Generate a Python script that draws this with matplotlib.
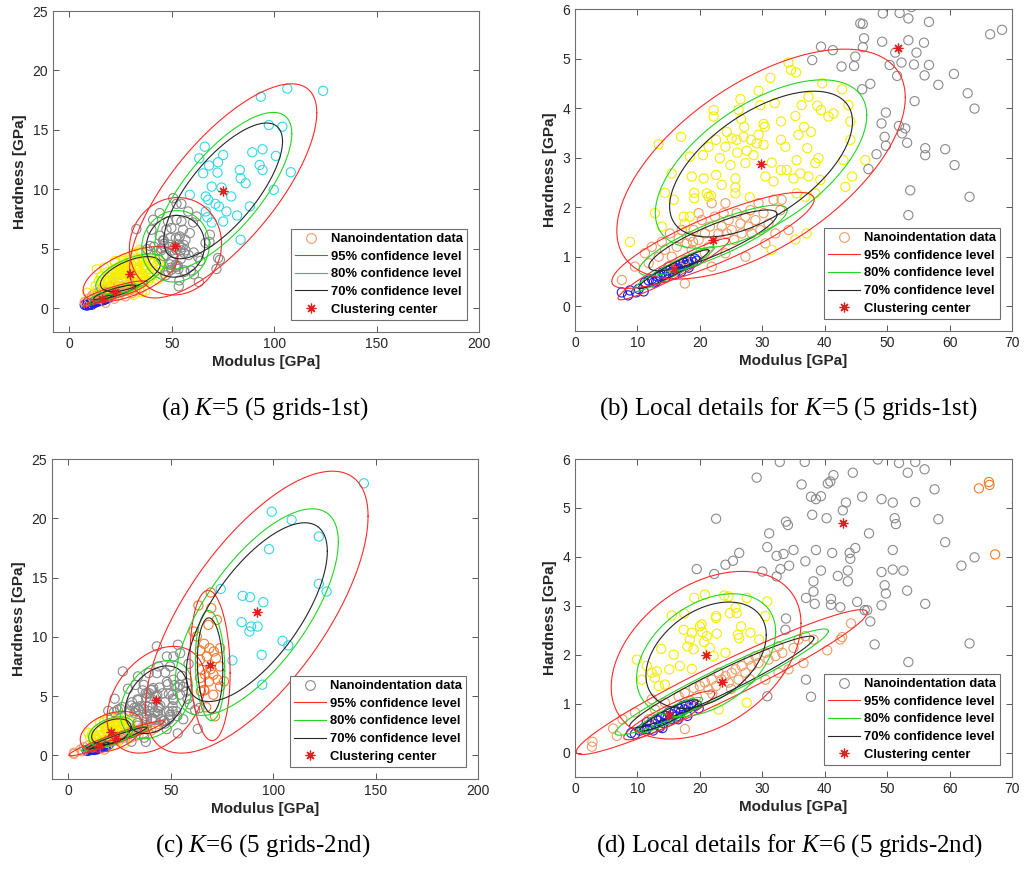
import numpy as np
import matplotlib
matplotlib.use("Agg")
import matplotlib.pyplot as plt
from matplotlib.lines import Line2D

plt.rcParams['font.family'] = ['Liberation Sans', 'DejaVu Sans']
plt.rcParams['mathtext.fontset'] = 'custom'
plt.rcParams['mathtext.rm'] = 'Liberation Serif'
plt.rcParams['mathtext.it'] = 'Liberation Serif:italic'

# ---------------- K=5 (5 grids-1st): modulus [GPa], hardness [GPa] ----------------
k5_blue = [(7.5, 0.28), (8.5, 0.22), (8.8, 0.32), (9.8, 0.28), (10.2, 0.35), (11.0, 0.30),
           (11.2, 0.48), (11.8, 0.52), (12.3, 0.55), (12.6, 0.48), (13.2, 0.60), (13.6, 0.62),
           (14.0, 0.68), (14.3, 0.64), (14.7, 0.72), (15.0, 0.66), (15.3, 0.74), (15.6, 0.70),
           (15.9, 0.78), (16.2, 0.73), (16.4, 0.82), (16.6, 0.76), (16.9, 0.85), (17.1, 0.80),
           (17.4, 0.88), (17.7, 0.83), (18.0, 0.90), (18.3, 0.86), (18.6, 0.94), (18.9, 0.89),
           (19.2, 0.96), (19.5, 0.92), (17.0, 0.70), (15.0, 0.80), (13.0, 0.50), (16.0, 0.64),
           (18.2, 0.78), (14.5, 0.58)]
k5_orange = [(7.5, 0.53), (9.6, 0.80), (11.2, 1.07), (11.8, 0.87), (12.3, 1.20), (13.4, 1.00),
             (13.9, 1.30), (14.4, 1.14), (15.2, 1.47), (15.5, 1.00), (16.3, 1.20), (16.6, 1.37),
             (17.1, 1.54), (17.6, 0.46), (17.9, 1.27), (18.4, 1.41), (18.7, 1.14), (19.0, 1.54),
             (19.8, 1.34), (20.3, 1.74), (20.8, 1.47), (21.4, 1.20), (21.6, 1.61), (21.9, 0.80),
             (22.4, 1.81), (23.0, 1.47), (23.5, 1.61), (23.8, 1.88), (24.3, 1.47), (24.6, 1.74),
             (25.1, 1.54), (25.5, 1.34), (25.9, 1.88), (26.5, 1.67), (26.7, 1.47), (27.3, 1.81),
             (27.8, 1.61), (28.1, 1.94), (28.3, 1.47), (28.9, 1.74), (29.4, 2.08), (29.7, 1.54),
             (30.2, 1.88), (31.0, 1.67), (31.8, 2.15), (32.1, 1.47), (32.9, 1.94), (33.1, 2.15),
             (34.2, 1.54), (27.3, 1.00), (24.1, 1.07), (20.8, 1.07), (17.6, 0.93), (15.0, 0.80),
             (30.5, 1.27), (21.9, 2.08), (19.8, 1.88), (24.1, 2.08), (18.9, 1.30)]
k5_yellow = [(13.4, 3.27), (17.0, 3.42), (8.8, 1.30), (14.4, 2.29), (15.8, 2.15), (19.1, 2.29),
             (19.1, 2.18), (18.4, 3.02), (18.7, 2.62), (20.6, 2.58), (21.1, 2.28), (21.4, 2.21),
             (21.8, 2.23), (21.4, 3.22), (22.6, 3.36), (22.2, 3.96), (22.2, 3.83), (24.1, 3.22),
             (23.2, 2.99), (22.6, 2.65), (24.3, 3.52), (25.1, 3.39), (24.9, 2.85), (25.7, 2.58),
             (25.7, 2.40), (25.7, 2.28), (25.9, 3.36), (26.2, 3.97), (26.5, 4.18), (26.6, 3.78),
             (27.1, 3.62), (27.0, 3.42), (27.3, 2.89), (27.5, 3.14), (28.2, 3.36), (28.6, 3.05),
             (29.1, 3.29), (29.4, 3.46), (30.2, 3.26), (30.2, 3.68), (30.4, 3.62), (29.7, 4.06),
             (29.4, 4.35), (30.5, 2.62), (31.8, 2.52), (31.3, 4.61), (33.0, 2.75), (33.0, 3.73),
             (33.0, 3.36), (33.7, 3.22), (33.9, 2.75), (35.0, 2.58), (35.3, 3.84), (35.8, 3.46),
             (36.1, 2.68), (35.5, 2.95), (36.3, 4.06), (36.7, 3.62), (37.2, 3.19), (37.4, 2.62),
             (37.4, 4.23), (37.8, 3.52), (38.5, 2.89), (38.8, 4.05), (39.0, 2.99), (39.4, 3.96),
             (39.3, 2.55), (40.6, 3.83), (41.4, 3.89), (42.8, 4.38), (43.8, 4.06), (44.1, 3.73),
             (44.1, 3.36), (44.4, 2.62), (43.3, 2.41), (43.0, 2.95), (46.5, 2.95), (38.5, 2.28),
             (36.9, 2.21), (35.5, 2.28), (37.1, 1.47), (35.3, 1.35), (31.5, 1.14), (39.6, 4.50),
             (34.2, 4.92), (34.6, 4.77), (35.4, 4.72), (12.8, 1.88), (13.9, 1.61), (17.4, 1.81),
             (18.4, 1.81), (17.6, 1.67), (15.5, 2.68), (20.5, 3.05), (23.5, 2.45), (28.0, 2.20),
             (31.5, 2.90), (26.0, 3.10), (32.0, 4.10)]
k5_gray = [(49.3, 5.91), (52.0, 5.92), (53.4, 5.81), (45.7, 5.71), (46.1, 5.70), (56.7, 5.74),
           (46.3, 5.41), (53.4, 5.37), (49.2, 5.34), (55.9, 5.32), (39.4, 5.24), (46.1, 5.23),
           (41.3, 5.17), (54.7, 5.12), (51.3, 5.12), (44.9, 5.04), (52.3, 4.92), (54.3, 4.88),
           (38.0, 4.97), (50.4, 4.87), (56.7, 4.87), (42.7, 4.84), (44.7, 4.85), (51.6, 4.65),
           (56.0, 4.66), (60.7, 4.69), (46.0, 4.38), (47.3, 4.49), (58.2, 4.47), (54.4, 4.14),
           (62.9, 4.30), (64.0, 3.99), (66.5, 5.49), (68.4, 5.58), (49.8, 3.91), (49.1, 3.69),
           (51.9, 3.64), (52.9, 3.59), (52.4, 3.49), (49.6, 3.42), (49.8, 3.24), (53.2, 3.30),
           (56.1, 3.19), (56.1, 3.05), (59.3, 3.17), (48.3, 3.07), (47.0, 2.77), (60.8, 2.85),
           (53.7, 2.34), (63.2, 2.21), (53.4, 1.84),
           (50.7, 9.26), (54.7, 8.78), (52.3, 8.78), (58.0, 8.14), (44.1, 8.00), (62.1, 7.72),
           (40.9, 7.44), (48.2, 7.30), (52.3, 7.44), (54.7, 7.30), (60.4, 7.21), (32.7, 6.66),
           (40.1, 6.60), (47.4, 6.60), (49.8, 6.74), (55.5, 6.60), (58.8, 6.32), (68.6, 6.18),
           (44.1, 6.10), (53.9, 6.04), (72.6, 4.22), (71.8, 3.30), (73.5, 4.08)]
k5_cyan = [(106.4, 18.48), (123.9, 18.29), (93.5, 17.79), (97.4, 15.41), (104.0, 15.27),
           (66.1, 13.59), (94.3, 13.37), (89.3, 13.12), (63.4, 12.61), (75.1, 12.89),
           (72.6, 12.28), (68.2, 12.00), (92.9, 12.05), (94.3, 11.63), (65.3, 11.35),
           (72.3, 11.41), (108.1, 11.44), (83.2, 11.63), (100.8, 12.81), (83.6, 10.93),
           (86.1, 10.51), (69.5, 10.23), (74.3, 10.15), (99.8, 9.96), (58.8, 9.54),
           (66.6, 9.40), (67.8, 9.12), (79.0, 9.40), (71.3, 8.78), (73.0, 8.56), (88.1, 8.56),
           (66.6, 8.14), (76.7, 8.14), (67.4, 7.66), (81.9, 7.80), (69.5, 7.21), (75.1, 7.30),
           (83.6, 5.76)]

# cluster centres and standard deviations (modulus, hardness) with correlation
k5_names = ['blue', 'orange', 'yellow', 'gray', 'cyan']
k5_cx = [15.8, 22.1, 29.8, 51.8, 75.1]
k5_cy = [0.75, 1.33, 2.87, 5.21, 9.87]
k5_sx = [3.64, 6.62, 9.44, 9.19, 18.67]
k5_sy = [0.253, 0.396, 0.948, 1.675, 3.68]
k5_rho = [0.95, 0.85, 0.58, 0.05, 0.73]

# ---------------- K=6 (5 grids-2nd) ----------------
k6_blue = [(9.0, 0.40), (9.6, 0.38), (10.4, 0.45), (11.0, 0.50), (11.5, 0.48), (12.0, 0.55),
           (12.3, 0.62), (12.8, 0.58), (13.0, 0.68), (13.3, 0.65), (13.6, 0.52), (13.8, 0.72),
           (14.2, 0.60), (14.5, 0.75), (14.8, 0.70), (15.0, 0.82), (15.3, 0.68), (15.6, 0.78),
           (16.0, 0.85), (16.3, 0.74), (16.6, 0.90), (16.9, 0.82), (17.2, 0.95), (17.5, 0.88),
           (17.8, 0.98), (18.2, 0.92), (18.6, 1.00), (19.0, 0.95), (19.5, 0.98), (19.8, 0.90),
           (18.0, 0.75), (14.0, 0.50), (12.5, 0.45), (16.5, 0.68), (11.5, 0.62)]
k6_orange = [(2.8, 0.22), (2.7, 0.12), (6.1, 0.49), (6.7, 0.34), (7.6, 0.68), (9.6, 0.82),
             (11.8, 0.68), (12.8, 0.88), (14.4, 1.02), (16.6, 1.15), (17.6, 1.22), (19.0, 1.32),
             (19.5, 1.15), (20.0, 1.36), (20.8, 1.43), (21.4, 1.29), (21.9, 1.49), (22.6, 1.36),
             (23.0, 1.63), (23.5, 1.49), (24.1, 1.56), (24.6, 1.43), (25.1, 1.63), (25.7, 1.70),
             (26.2, 1.49), (26.7, 1.77), (27.3, 1.63), (27.8, 1.90), (28.3, 1.77), (28.9, 1.97),
             (29.4, 1.83), (30.5, 2.04), (31.0, 1.90), (32.1, 1.97), (32.6, 2.17), (33.2, 2.04),
             (34.2, 1.70), (35.0, 2.14), (35.8, 2.31), (36.9, 2.38), (38.2, 2.31), (40.4, 2.09),
             (42.5, 2.31), (42.8, 2.36), (44.2, 2.64), (36.6, 1.83), (32.6, 1.63), (30.5, 1.49),
             (17.6, 0.48), (12.3, 1.09), (22.0, 1.20), (25.0, 1.30), (28.0, 1.50), (18.5, 1.05)]
k6_yellow = [(9.9, 1.90), (11.5, 1.77), (10.7, 1.49), (12.3, 1.63), (12.8, 1.53), (13.4, 1.36),
             (13.1, 1.66), (15.1, 1.70), (15.5, 2.80), (15.8, 2.00), (16.8, 1.77), (17.5, 2.84),
             (18.0, 2.17), (18.7, 2.45), (18.4, 2.31), (19.0, 2.11), (18.7, 1.71), (19.1, 3.16),
             (20.0, 2.58), (20.4, 2.46), (20.7, 2.26), (20.8, 3.23), (21.1, 2.38), (21.6, 2.14),
             (22.2, 1.97), (22.6, 2.75), (22.7, 2.43), (22.6, 2.79), (23.9, 3.21), (24.1, 2.04),
             (24.6, 3.19), (24.8, 2.85), (25.7, 2.96), (25.9, 2.85), (26.1, 2.41), (26.3, 2.34),
             (26.6, 2.58), (27.5, 3.16), (28.1, 2.45), (29.5, 2.31), (30.5, 2.79), (30.8, 3.09),
             (13.8, 2.12), (14.4, 1.39), (17.4, 2.51), (20.3, 2.62), (23.0, 0.88), (27.5, 1.02)]
k6_gray = [(29.1, 5.62), (32.8, 5.94), (36.8, 5.94), (48.5, 5.99), (51.9, 5.92), (54.5, 5.94),
           (53.3, 5.72), (56.0, 5.79), (44.5, 5.72), (41.4, 5.67), (40.5, 5.50), (40.9, 5.54),
           (36.3, 5.48), (37.8, 5.23), (38.6, 5.18), (39.4, 5.24), (46.0, 5.23), (49.1, 5.18),
           (50.9, 5.11), (54.5, 5.12), (57.6, 5.38), (43.4, 5.11), (42.9, 4.95), (38.0, 4.86),
           (40.3, 4.79), (51.2, 4.79), (51.4, 4.67), (58.2, 4.77), (22.6, 4.78), (33.8, 4.72),
           (34.1, 4.65), (31.1, 4.48), (47.1, 4.48), (59.3, 4.30), (30.8, 4.20), (35.0, 4.14),
           (38.6, 4.14), (44.9, 4.18), (50.9, 4.14), (44.0, 4.08), (44.1, 3.96), (41.2, 4.08),
           (32.3, 4.02), (33.4, 4.06), (26.3, 4.08), (25.3, 3.92), (24.1, 3.84), (19.5, 3.75),
           (64.0, 3.99), (61.9, 3.82), (22.3, 3.65), (30.0, 3.70), (32.9, 3.75), (34.3, 3.82),
           (36.9, 3.91), (39.4, 3.72), (42.1, 3.61), (43.7, 3.72), (43.7, 3.50), (49.1, 3.69),
           (50.9, 3.74), (52.6, 3.72), (32.3, 3.60), (38.2, 3.50), (38.2, 3.29), (49.6, 3.42),
           (49.8, 3.25), (53.2, 3.31), (41.0, 3.14), (41.0, 3.02), (37.0, 3.16), (38.4, 3.04),
           (42.5, 2.97), (45.2, 3.08), (49.1, 3.01), (56.1, 3.04), (46.4, 2.91), (46.8, 2.91),
           (47.3, 2.68), (33.8, 2.74), (33.7, 2.51), (48.0, 2.21), (63.2, 2.23), (53.4, 1.85),
           (37.0, 1.49), (37.8, 1.14), (30.8, 1.15),
           (43.2, 9.19), (53.5, 9.33), (51.3, 8.34), (48.1, 8.34), (54.6, 8.62), (58.7, 7.72),
           (26.6, 7.08), (34.0, 6.66), (39.2, 6.94), (43.2, 6.94), (47.3, 6.99), (51.3, 6.38),
           (55.4, 6.71), (48.1, 6.20), (57.8, 6.10), (44.0, 7.50), (49.7, 7.50)]
k6_orange2 = [(69.5, 13.74), (63.5, 12.64), (69.8, 12.42), (72.5, 11.43), (68.4, 11.01),
              (61.1, 10.45), (62.7, 10.03), (66.3, 9.41), (64.3, 8.85), (68.9, 9.04),
              (71.0, 8.76), (74.1, 9.04), (64.3, 8.06), (67.6, 8.34), (72.1, 8.20),
              (65.1, 7.22), (69.5, 7.28), (74.1, 7.50), (66.8, 6.80), (70.8, 6.80),
              (64.3, 6.52), (68.7, 6.24), (72.8, 6.38), (76.0, 6.24), (66.3, 5.53),
              (70.8, 5.11), (74.1, 5.81), (71.6, 3.29), (64.7, 5.40), (66.4, 5.47), (67.3, 4.05)]
k6_cyan = [(144.3, 22.95), (99.3, 20.56), (109.0, 19.86), (122.3, 18.46), (98.0, 17.39),
           (122.3, 14.47), (126.1, 13.82), (74.4, 14.04), (85.1, 13.46), (88.7, 13.34),
           (95.2, 12.92), (84.6, 11.24), (89.2, 10.87), (92.4, 10.87), (88.4, 10.45),
           (104.6, 9.66), (107.4, 9.27), (94.4, 8.48), (80.1, 8.01), (94.7, 5.96)]

k6_names = ['blue', 'orange', 'yellow', 'gray', 'orange2', 'cyan']
k6_cx = [15.1, 23.5, 21.0, 42.9, 69.2, 92.0]
k6_cy = [0.76, 1.44, 1.99, 4.69, 7.58, 12.08]
k6_sx = [2.98, 9.52, 6.21, 9.8, 4.0, 22.2]
k6_sy = [0.204, 0.605, 0.70, 1.84, 2.59, 4.86]
k6_rho = [0.90, 0.96, 0.38, 0.35, -0.10, 0.68]

# confidence levels: label, chi-square (2 dof) radius, colour
conf_labels = ['95% confidence level', '80% confidence level', '70% confidence level']
conf_radius = [np.sqrt(5.991), np.sqrt(3.219), np.sqrt(2.408)]
conf_colors = ['#ff2a2a', '#22d622', '#262626']

colors = {'blue': '#1f1fe6', 'orange': '#ee9c66', 'yellow': '#f5ec00', 'gray': '#8a8a8a',
          'orange2': '#f07b2e', 'cyan': '#33d6e6'}
center_marker = (8, 2, 0)   # asterisk like MATLAB '*'


def draw_ellipse(ax, cx, cy, sx, sy, rho, k, color):
    t = np.linspace(0, 2 * np.pi, 300)
    x = cx + k * sx * np.cos(t)
    y = cy + k * sy * (rho * np.cos(t) + np.sqrt(1 - rho ** 2) * np.sin(t))
    ax.plot(x, y, color=color, lw=0.8, zorder=3)


def panel(ax, clusters, names, cx, cy, sx, sy, rho, n_ell, xlim, ylim, xticks, yticks, leg_color):
    for pts, nm in zip(clusters, names):
        p = np.array(pts)
        ax.scatter(p[:, 0], p[:, 1], s=44, facecolors='none', edgecolors=colors[nm],
                   linewidths=0.8, zorder=2)
    for i in range(n_ell):
        for k, c in zip(conf_radius, conf_colors):
            draw_ellipse(ax, cx[i], cy[i], sx[i], sy[i], rho[i], k, c)
    ax.plot(cx, cy, ls='none', marker=center_marker, ms=7, color='#e0201e', mew=0.9, zorder=4)
    ax.set_xlim(*xlim)
    ax.set_ylim(*ylim)
    ax.set_xticks(xticks)
    ax.set_yticks(yticks)
    ax.tick_params(direction='in', top=True, right=True, length=4, width=0.7,
                   labelsize=10, colors='#555555', labelcolor='#262626')
    for s in ax.spines.values():
        s.set_color('#6e6e6e')
        s.set_linewidth(0.8)
    ax.set_xlabel('Modulus [GPa]', fontsize=11, fontweight='bold', labelpad=3, color='#262626')
    ax.set_ylabel('Hardness [GPa]', fontsize=11, fontweight='bold', labelpad=4, color='#262626')
    handles = [Line2D([], [], ls='none', marker='o', mfc='none', mec=leg_color, ms=7, mew=0.8)]
    handles += [Line2D([], [], color=c, lw=0.8) for c in conf_colors]
    handles += [Line2D([], [], ls='none', marker=center_marker, color='#e0201e', ms=7, mew=0.9)]
    labels = ['Nanoindentation data'] + conf_labels + ['Clustering center']
    leg = ax.legend(handles, labels, loc='lower right', prop={'weight': 'bold', 'size': 9.4},
                    fancybox=False, framealpha=1, edgecolor='#6e6e6e', borderaxespad=0.95,
                    labelspacing=0.42, handlelength=2.4, handletextpad=0.3, borderpad=0.3)
    leg.get_frame().set_linewidth(0.8)


fig = plt.figure(figsize=(10.25, 8.76), dpi=100)
ax_a = fig.add_axes([0.0517, 0.621, 0.4156, 0.3664])
ax_b = fig.add_axes([0.561, 0.6221, 0.4263, 0.3676])
ax_c = fig.add_axes([0.0507, 0.1107, 0.4156, 0.3653])
ax_d = fig.add_axes([0.561, 0.1130, 0.4263, 0.3630])

k5_clusters = [k5_blue, k5_orange, k5_yellow, k5_gray, k5_cyan]
k6_clusters = [k6_blue, k6_orange, k6_yellow, k6_gray, k6_orange2, k6_cyan]

panel(ax_a, k5_clusters, k5_names, k5_cx, k5_cy, k5_sx, k5_sy, k5_rho, 5,
      (-8, 200), (-2, 25), range(0, 201, 50), range(0, 26, 5), colors['orange'])
panel(ax_b, k5_clusters, k5_names, k5_cx, k5_cy, k5_sx, k5_sy, k5_rho, 3,
      (0, 70), (-0.5, 6), range(0, 71, 10), range(0, 7), colors['orange'])
panel(ax_c, k6_clusters, k6_names, k6_cx, k6_cy, k6_sx, k6_sy, k6_rho, 6,
      (-8, 200), (-2, 25), range(0, 201, 50), range(0, 26, 5), colors['gray'])
panel(ax_d, k6_clusters, k6_names, k6_cx, k6_cy, k6_sx, k6_sy, k6_rho, 3,
      (0, 70), (-0.5, 6), range(0, 71, 10), range(0, 7), colors['gray'])

cap = dict(fontsize=18, family='Liberation Serif', ha='center', va='center')
fig.text(265 / 1025, 1 - 409 / 876, r'(a) $\it{K}$=5 (5 grids-1st)', **cap)
fig.text(788 / 1025, 1 - 409 / 876, r'(b) Local details for $\it{K}$=5 (5 grids-1st)', **cap)
fig.text(263 / 1025, 1 - 846 / 876, r'(c) $\it{K}$=6 (5 grids-2nd)', **cap)
fig.text(790 / 1025, 1 - 846 / 876, r'(d) Local details for $\it{K}$=6 (5 grids-2nd)', **cap)

fig.savefig('out.png', dpi=100)
